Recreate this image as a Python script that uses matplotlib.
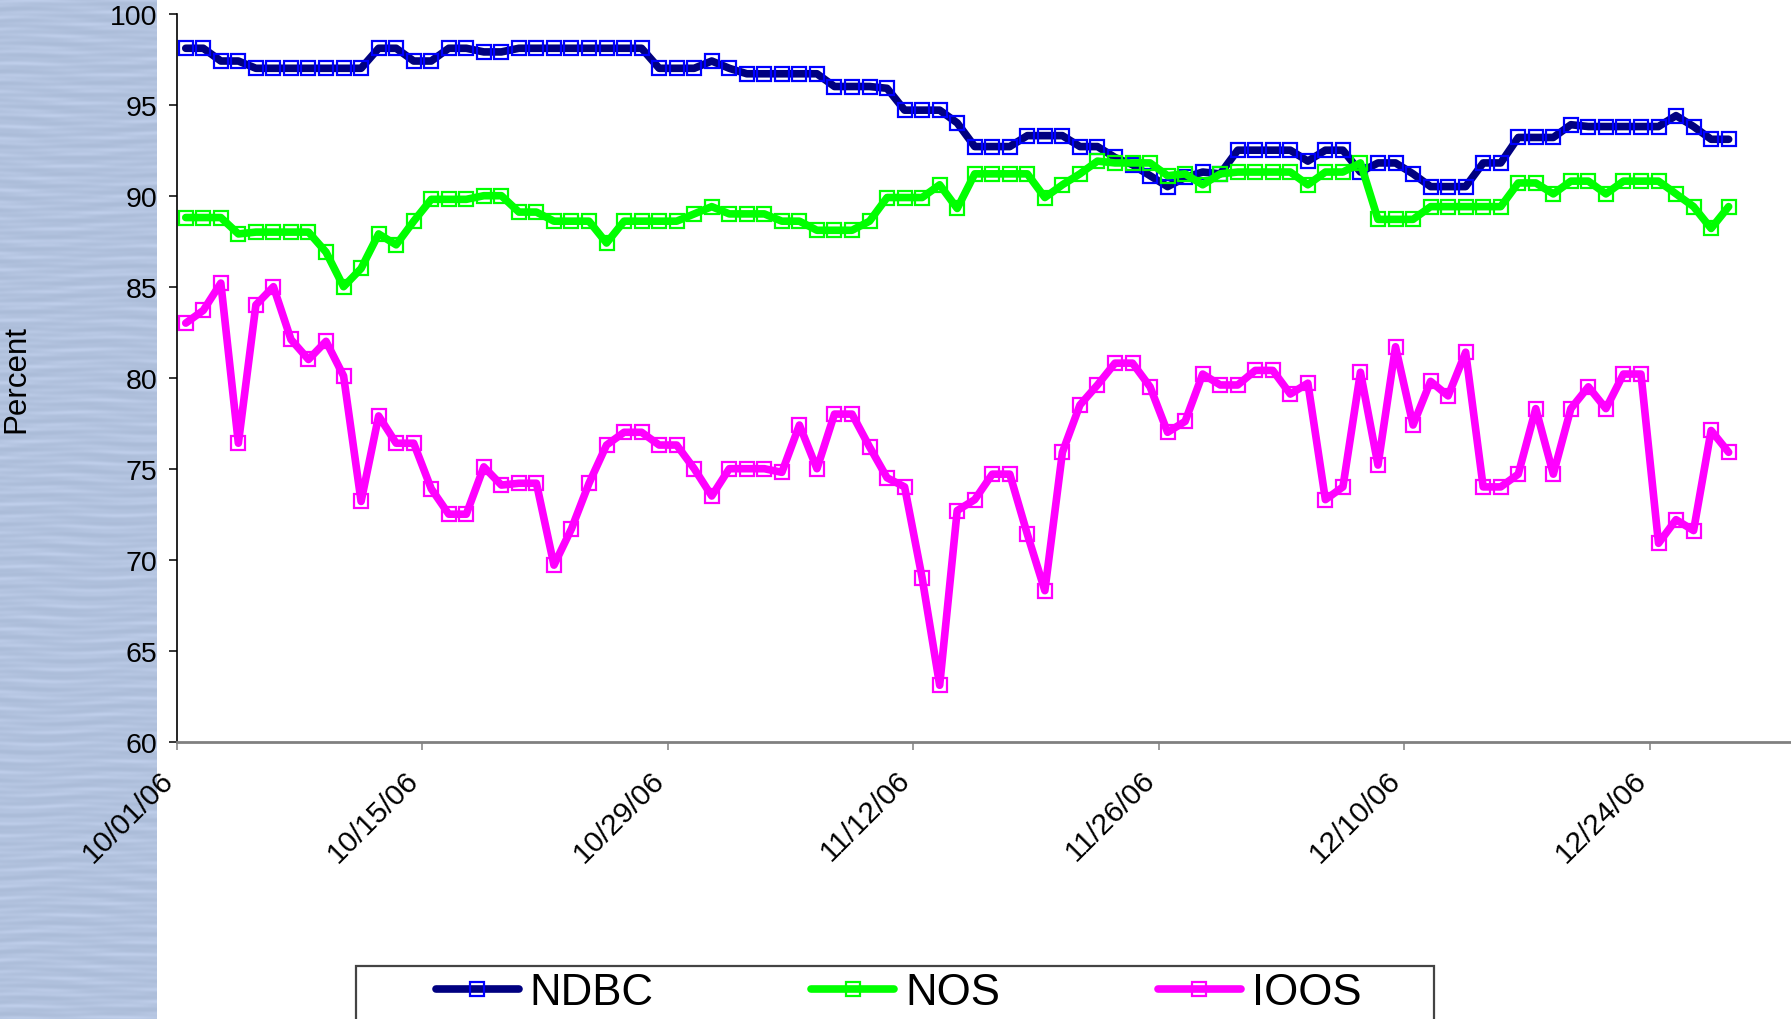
import numpy as np
import pandas as pd
import matplotlib
matplotlib.use("Agg")
import matplotlib.pyplot as plt
from matplotlib.patches import Rectangle
from matplotlib.transforms import ScaledTranslation

plt.rcParams['font.family'] = ['Liberation Sans', 'DejaVu Sans']

# daily values, 10/01/06 .. 12/28/06
start = "2006-10-01 12:00"

ndbc = [98.1, 98.1, 97.4, 97.4, 97.0, 97.0, 97.0, 97.0, 97.0, 97.0,
        97.0, 98.1, 98.1, 97.4, 97.4, 98.1, 98.1, 97.9, 97.9, 98.1,
        98.1, 98.1, 98.1, 98.1, 98.1, 98.1, 98.1, 97.0, 97.0, 97.0,
        97.4, 97.0, 96.7, 96.7, 96.7, 96.7, 96.7, 96.0, 96.0, 96.0,
        95.9, 94.7, 94.7, 94.7, 94.0, 92.7, 92.7, 92.7, 93.3, 93.3,
        93.3, 92.7, 92.7, 92.1, 91.7, 91.1, 90.5, 91.0, 91.3, 91.2,
        92.5, 92.5, 92.5, 92.5, 91.9, 92.5, 92.5, 91.3, 91.8, 91.8,
        91.2, 90.5, 90.5, 90.5, 91.8, 91.8, 93.2, 93.2, 93.2, 93.9,
        93.8, 93.8, 93.8, 93.8, 93.8, 94.4, 93.8, 93.1, 93.1]

nos = [88.8, 88.8, 88.8, 87.9, 88.0, 88.0, 88.0, 88.0, 86.9, 85.0,
       86.0, 87.9, 87.3, 88.6, 89.8, 89.8, 89.8, 90.0, 90.0, 89.1,
       89.1, 88.6, 88.6, 88.6, 87.4, 88.6, 88.6, 88.6, 88.6, 89.0,
       89.4, 89.0, 89.0, 89.0, 88.6, 88.6, 88.1, 88.1, 88.1, 88.6,
       89.9, 89.9, 89.9, 90.6, 89.3, 91.2, 91.2, 91.2, 91.2, 89.9,
       90.6, 91.2, 91.9, 91.8, 91.8, 91.8, 91.1, 91.2, 90.6, 91.2,
       91.3, 91.3, 91.3, 91.3, 90.6, 91.3, 91.3, 91.8, 88.7, 88.7,
       88.7, 89.4, 89.4, 89.4, 89.4, 89.4, 90.7, 90.7, 90.1, 90.8,
       90.8, 90.1, 90.8, 90.8, 90.8, 90.1, 89.4, 88.2, 89.4]

ioos = [83.0, 83.7, 85.2, 76.4, 84.0, 85.0, 82.1, 81.0, 82.0, 80.1,
        73.2, 77.9, 76.4, 76.4, 73.9, 72.5, 72.5, 75.1, 74.1, 74.2,
        74.2, 69.7, 71.7, 74.2, 76.3, 77.0, 77.0, 76.3, 76.3, 75.0,
        73.5, 75.0, 75.0, 75.0, 74.8, 77.4, 75.0, 78.0, 78.0, 76.2,
        74.5, 74.0, 69.0, 63.1, 72.7, 73.3, 74.7, 74.7, 71.4, 68.3,
        75.9, 78.5, 79.6, 80.8, 80.8, 79.5, 77.0, 77.6, 80.2, 79.6,
        79.6, 80.4, 80.4, 79.1, 79.7, 73.3, 74.0, 80.3, 75.2, 81.7,
        77.4, 79.8, 79.0, 81.4, 74.0, 74.0, 74.7, 78.3, 74.7, 78.3,
        79.5, 78.3, 80.2, 80.2, 70.9, 72.2, 71.6, 77.1, 75.9]

series_names = ["NDBC", "NOS", "IOOS"]
line_colors = ["#000080", "#00FF00", "#FF00FF"]
marker_colors = ["#0000FF", "#00FF00", "#FF00FF"]

tick_dates = pd.date_range("2006-10-01", periods=7, freq="14D")
tick_labels = ["10/01/06", "10/15/06", "10/29/06", "11/12/06",
               "11/26/06", "12/10/06", "12/24/06"]
y_ticks = [60, 65, 70, 75, 80, 85, 90, 95, 100]

dates = pd.date_range(start, periods=len(ndbc), freq="D")

W, H = 1791, 1020
fig = plt.figure(figsize=(W / 100, H / 100), dpi=100, facecolor="white")

# water-like strip on the left (decoration only)
bg = fig.add_axes([0, 0, 157 / W, 1], zorder=-1)
yy, xx = np.mgrid[0:H, 0:157]
s = np.sin(yy * 0.45 + 1.2 * np.sin(xx * 0.035 + yy * 0.013)) * np.sin(xx * 0.025 + yy * 0.05 + 1.0)
s = s + 0.4 * np.sin(yy * 1.1 + 0.8 * np.sin(xx * 0.06 + yy * 0.02))
t = np.clip((s + 1.4) / 2.8, 0, 1) ** 1.5
light = np.array([0.75, 0.81, 0.92])
dark = np.array([0.62, 0.69, 0.80])
tex = light[None, None, :] - (light - dark)[None, None, :] * (1 - t[..., None]) * 0.6
bg.imshow(np.clip(tex, 0, 1), aspect="auto", interpolation="bilinear")
bg.axis("off")

ax = fig.add_axes([177 / W, 1 - 742.7 / H, (1790 - 177) / W, (742.7 - 14.7) / H])
ax.set_facecolor("white")

handles = []
for vals, name, lc, mc in zip([ndbc, nos, ioos], series_names, line_colors, marker_colors):
    h, = ax.plot(dates, vals, color=lc, lw=5.5, marker="s", ms=10.5,
                 mfc="none", mec=mc, mew=1.6, label=name,
                 solid_capstyle="round", solid_joinstyle="round", clip_on=False)
    handles.append(h)

ax.set_xlim(pd.Timestamp("2006-10-01"), pd.Timestamp("2007-01-01"))
ax.set_ylim(60, 100)
ax.set_yticks(y_ticks)
ax.set_yticklabels([str(v) for v in y_ticks], fontsize=20.5)
ax.set_xticks(tick_dates)
ax.set_xticklabels(tick_labels, fontsize=21.5, rotation=45, ha="right",
                   va="center", rotation_mode="anchor")

for sp in ["top", "right"]:
    ax.spines[sp].set_visible(False)
ax.spines["left"].set_linewidth(1.2)
ax.spines["bottom"].set_color("#808080")
ax.spines["bottom"].set_linewidth(2)

ax.tick_params(axis="y", direction="out", length=6, width=1.1, pad=8)
ax.tick_params(axis="x", direction="out", length=6, width=1.1, pad=18, color="#808080")

shift = ScaledTranslation(-8 / 100, 0, fig.dpi_scale_trans)
for lab in ax.get_xticklabels():
    lab.set_transform(lab.get_transform() + shift)

fig.text(16 / W, 1 - 379 / H, "Percent", rotation=90, ha="center", va="center", fontsize=22.5)

# legend box running off the bottom edge
fig.add_artist(Rectangle((355.6 / W, -0.05), (1433.8 - 355.6) / W, 0.05 + 1 - 967 / H,
                         transform=fig.transFigure, facecolor="white",
                         edgecolor="#444444", lw=1.6))
fig.legend(handles, series_names, loc="center left",
           bbox_to_anchor=(435.6 / W, 1 - 993.7 / H), ncol=3, frameon=False,
           fontsize=31.5, handlelength=1.9, handletextpad=0.25, columnspacing=3.6,
           borderpad=0, borderaxespad=0, numpoints=1)

fig.savefig("out.png", dpi=100, facecolor="white")
